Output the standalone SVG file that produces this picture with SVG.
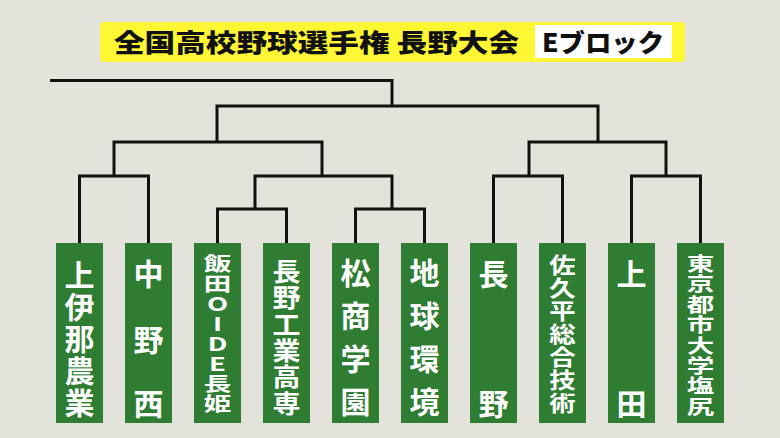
<svg xmlns="http://www.w3.org/2000/svg" width="780" height="438" viewBox="0 0 780 438">
<style>
.ln{fill:none;stroke:#111;stroke-width:3}
.bx{fill:#2e7d32}
.t{font-family:"Noto Sans CJK JP",sans-serif;font-weight:bold;fill:#fff;text-anchor:middle;dominant-baseline:central}
.ttl{font-family:"Noto Sans CJK JP",sans-serif;font-weight:900;fill:#111;font-size:25px}
</style>
<rect width="780" height="438" fill="#e3e3dc"/>
<g id="title">
<rect x="100" y="22" width="585" height="40" rx="4" fill="#fff733"/>
<rect x="535" y="25" width="137" height="33" fill="#fff"/>
<text class="ttl" x="114" y="52" textLength="405" lengthAdjust="spacingAndGlyphs">全国高校野球選手権 長野大会</text>
<text class="ttl" x="542" y="52" textLength="122" lengthAdjust="spacingAndGlyphs">Eブロック</text>
</g>
<g id="connectors" class="ln">
<path d="M50 80.5H392V106"/>
<path d="M217 142V106H598V142"/>
<path d="M114 176V142H322V176"/>
<path d="M529 176V142H666V176"/>
<path d="M79.5 243V176H148.5V243"/>
<path d="M255 209V176H392V209"/>
<path d="M493.5 243V176H562.5V243"/>
<path d="M631.5 243V176H700.5V243"/>
<path d="M217.5 243V209H286.5V243"/>
<path d="M355.5 243V209H424.5V243"/>
</g>
<g id="n1"><rect class="bx" x="56" y="243" width="47" height="180"/>
<text class="t" font-size="30" x="79.5"><tspan x="79.5" y="273">上</tspan><tspan x="79.5" y="305">伊</tspan><tspan x="79.5" y="337">那</tspan><tspan x="79.5" y="369">農</tspan><tspan x="79.5" y="401">業</tspan></text></g>
<g id="n2"><rect class="bx" x="125" y="243" width="47" height="180"/>
<text class="t" font-size="30"><tspan x="148.5" y="272">中</tspan><tspan x="148.5" y="338">野</tspan><tspan x="148.5" y="402">西</tspan></text></g>
<g id="n3"><rect class="bx" x="194" y="243" width="47" height="180"/>
<g class="t" font-size="19">
<text transform="translate(217.5,263) scale(1.45,1)">飯</text>
<text transform="translate(217.5,283) scale(1.45,1)">田</text>
<text transform="translate(217.5,303) scale(1.45,1)">O</text>
<text transform="translate(217.5,323) scale(1.45,1)">I</text>
<text transform="translate(217.5,343) scale(1.45,1)">D</text>
<text transform="translate(217.5,363) scale(1.45,1)">E</text>
<text transform="translate(217.5,383) scale(1.45,1)">長</text>
<text transform="translate(217.5,403) scale(1.45,1)">姫</text></g></g>
<g id="n4"><rect class="bx" x="263" y="243" width="47" height="180"/>
<g class="t" font-size="25">
<text transform="translate(286.5,270) scale(1.12,1)">長</text>
<text transform="translate(286.5,296.4) scale(1.12,1)">野</text>
<text transform="translate(286.5,322.8) scale(1.12,1)">工</text>
<text transform="translate(286.5,349.2) scale(1.12,1)">業</text>
<text transform="translate(286.5,375.6) scale(1.12,1)">高</text>
<text transform="translate(286.5,402) scale(1.12,1)">専</text></g></g>
<g id="n5"><rect class="bx" x="332" y="243" width="47" height="180"/>
<text class="t" font-size="30"><tspan x="355.5" y="271">松</tspan><tspan x="355.5" y="314">商</tspan><tspan x="355.5" y="357">学</tspan><tspan x="355.5" y="400">園</tspan></text></g>
<g id="n6"><rect class="bx" x="401" y="243" width="47" height="180"/>
<text class="t" font-size="30"><tspan x="424.5" y="271">地</tspan><tspan x="424.5" y="314">球</tspan><tspan x="424.5" y="357">環</tspan><tspan x="424.5" y="400">境</tspan></text></g>
<g id="n7"><rect class="bx" x="470" y="243" width="47" height="180"/>
<text class="t" font-size="30"><tspan x="493.5" y="272">長</tspan><tspan x="493.5" y="402">野</tspan></text></g>
<g id="n8"><rect class="bx" x="539" y="243" width="47" height="180"/>
<g class="t" font-size="22">
<text transform="translate(562.5,263) scale(1.2,1)">佐</text>
<text transform="translate(562.5,286) scale(1.2,1)">久</text>
<text transform="translate(562.5,309) scale(1.2,1)">平</text>
<text transform="translate(562.5,332) scale(1.2,1)">総</text>
<text transform="translate(562.5,355) scale(1.2,1)">合</text>
<text transform="translate(562.5,378) scale(1.2,1)">技</text>
<text transform="translate(562.5,401) scale(1.2,1)">術</text></g></g>
<g id="n9"><rect class="bx" x="608" y="243" width="47" height="180"/>
<text class="t" font-size="30"><tspan x="631.5" y="272">上</tspan><tspan x="631.5" y="402">田</tspan></text></g>
<g id="n10"><rect class="bx" x="677" y="243" width="47" height="180"/>
<g class="t" font-size="19">
<text transform="translate(700.5,263) scale(1.45,1)">東</text>
<text transform="translate(700.5,283.4) scale(1.45,1)">京</text>
<text transform="translate(700.5,303.8) scale(1.45,1)">都</text>
<text transform="translate(700.5,324.2) scale(1.45,1)">市</text>
<text transform="translate(700.5,344.6) scale(1.45,1)">大</text>
<text transform="translate(700.5,365) scale(1.45,1)">学</text>
<text transform="translate(700.5,385.4) scale(1.45,1)">塩</text>
<text transform="translate(700.5,405.8) scale(1.45,1)">尻</text></g></g>
</svg>
